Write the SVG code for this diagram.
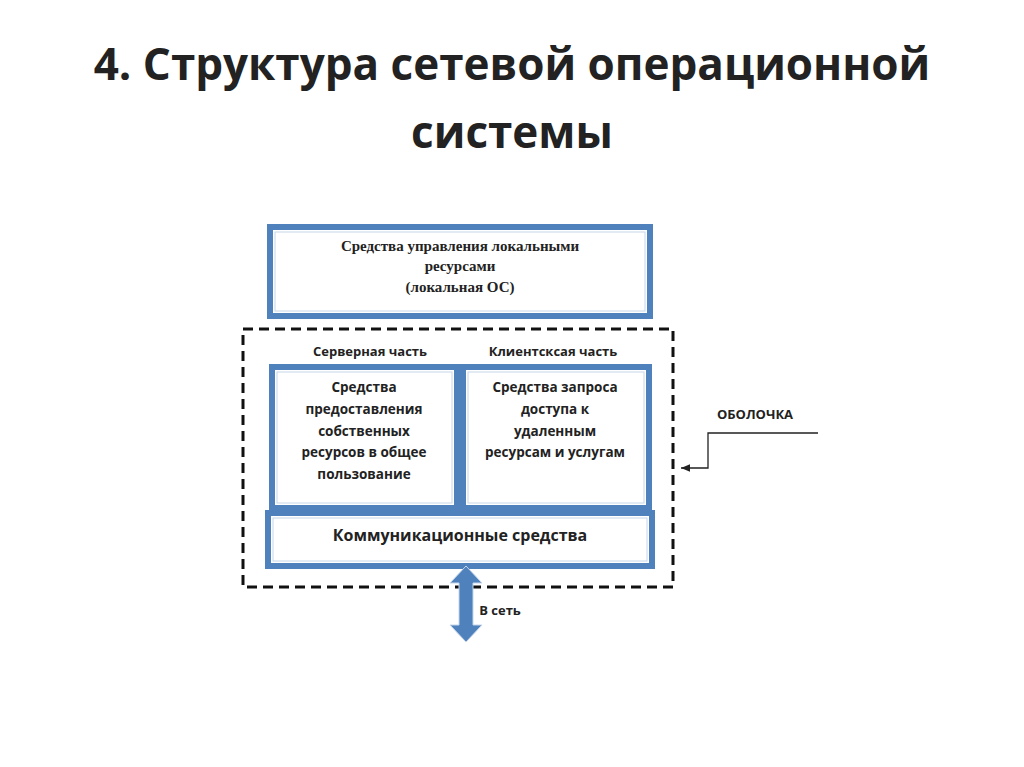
<svg xmlns="http://www.w3.org/2000/svg" width="1024" height="767" viewBox="0 0 1024 767">
<style>
.box{fill:#fff;stroke:#4f81bd;stroke-width:6}
.inner{fill:none;stroke:#c6d6ea;stroke-width:1}
.t{font-family:"Open Sans","Liberation Sans",sans-serif;font-weight:bold;fill:#222;text-anchor:middle}
.s{font-family:"Liberation Serif",serif;font-weight:bold;fill:#222;text-anchor:middle;font-size:15px}
</style>
<defs><marker id="ah" markerWidth="8" markerHeight="8" refX="7" refY="4" orient="auto"><path d="M0,1 L7,4 L0,7z" fill="#222"/></marker></defs>
<rect width="1024" height="767" fill="#fff"/>
<text class="t" x="512" y="80" font-size="44">4. Структура сетевой операционной</text>
<text class="t" x="512" y="148" font-size="44">системы</text>
<g id="local"><rect class="box" x="270" y="227" width="380" height="89"/><rect class="inner" x="275" y="232" width="370" height="79"/>
<text class="s" x="460" y="251">Средства управления локальными</text><text class="s" x="460" y="271">ресурсами</text><text class="s" x="460" y="292">(локальная ОС)</text></g>
<g id="shell"><rect x="243" y="329" width="430" height="258" fill="none" stroke="#111" stroke-width="3" stroke-dasharray="10,6"/></g>
<text class="t" x="370" y="356" font-size="13">Серверная часть</text>
<text class="t" x="553" y="356" font-size="13">Клиентсксая часть</text>
<g id="server"><rect class="box" x="272" y="367" width="185" height="141"/><rect class="inner" x="277" y="372" width="175" height="131"/>
<text class="t" font-size="13.5" x="364" y="392">Средства</text><text class="t" font-size="13.5" x="364" y="414">предоставления</text><text class="t" font-size="13.5" x="364" y="436">собственных</text><text class="t" font-size="13.5" x="364" y="457">ресурсов в общее</text><text class="t" font-size="13.5" x="364" y="479">пользование</text></g>
<g id="client"><rect class="box" x="463" y="367" width="186" height="141"/><rect class="inner" x="468" y="372" width="176" height="131"/>
<text class="t" font-size="13.5" x="555" y="392">Средства запроса</text><text class="t" font-size="13.5" x="555" y="414">доступа к</text><text class="t" font-size="13.5" x="555" y="436">удаленным</text><text class="t" font-size="13.5" x="555" y="457">ресурсам и услугам</text></g>
<g id="comm"><rect class="box" x="268" y="513" width="384" height="53"/><rect class="inner" x="273" y="518" width="374" height="43"/>
<text class="t" font-size="16" x="460" y="541" font-weight="normal">Коммуникационные средства</text></g>
<g id="connectors">
<path d="M466,566 L482,583 L473,583 L473,625 L482,625 L466,642 L450,625 L459,625 L459,583 L450,583 Z" fill="#4f81bd" stroke="#c6d6ea" stroke-width="1"/>
<path d="M818,433 L708,433 L708,468 L681,468" fill="none" stroke="#222" stroke-width="1.3" marker-end="url(#ah)"/>
</g>
<text class="t" font-size="13" x="500" y="615">В сеть</text>
<text class="t" font-size="13" x="755" y="419">ОБОЛОЧКА</text>
</svg>
